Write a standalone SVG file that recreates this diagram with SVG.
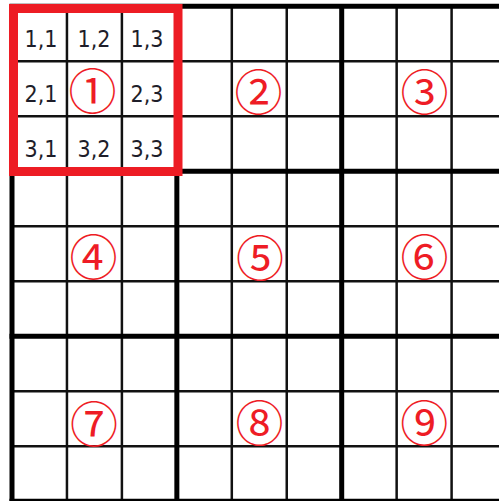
<svg xmlns="http://www.w3.org/2000/svg" width="499" height="501" viewBox="0 0 499 501">
<style>
.thin{stroke:#111;stroke-width:2.5;fill:none}
.thick{stroke:#000;stroke-width:5;fill:none}
.coord{font-family:"DejaVu Sans Condensed","DejaVu Sans",sans-serif;font-stretch:condensed;font-size:23px;fill:#1e1e2a;text-anchor:middle}
.circ{font-family:"Noto Sans CJK JP",sans-serif;font-size:48px;fill:#ee1c25;text-anchor:middle;dominant-baseline:central}
</style>
<rect width="499" height="501" fill="#fff"/>
<g id="grid">
<g class="thin">
<path d="M66.95 6V501M121.9 6V501M231.8 6V501M286.75 6V501M396.65 6V501M451.6 6V501"/>
<path d="M12 61.3H499M12 116.3H499M12 226.3H499M12 281.3H499M12 391.3H499M12 446.3H499"/>
</g>
<g class="thick">
<path d="M12 6.3V503M176.85 6.3V503M341.7 6.3V503"/>
<path d="M9.5 6.3H499M9.5 171.3H499M9.5 336.3H499M9.5 501.3H499"/>
</g>
</g>
<g id="box1">
<rect x="13.5" y="8.5" width="164.5" height="163" fill="none" stroke="#ed1c24" stroke-width="9"/>
<text class="coord" x="41" y="47">1,1</text>
<text class="coord" x="94" y="47">1,2</text>
<text class="coord" x="147" y="47">1,3</text>
<text class="coord" x="41" y="102">2,1</text>
<text class="coord" x="147" y="102">2,3</text>
<text class="coord" x="41" y="157">3,1</text>
<text class="coord" x="94" y="157">3,2</text>
<text class="coord" x="147" y="157">3,3</text>
<text class="circ" x="92.5" y="88">①</text>
</g>
<g id="box2"><text class="circ" x="258.5" y="89">②</text></g>
<g id="box3"><text class="circ" x="424.5" y="89">③</text></g>
<g id="box4"><text class="circ" x="93.5" y="254">④</text></g>
<g id="box5"><text class="circ" x="260" y="254.5">⑤</text></g>
<g id="box6"><text class="circ" x="424.5" y="254">⑥</text></g>
<g id="box7"><text class="circ" x="94" y="420.5">⑦</text></g>
<g id="box8"><text class="circ" x="259.5" y="420">⑧</text></g>
<g id="box9"><text class="circ" x="424.2" y="419.5">⑨</text></g>
</svg>
